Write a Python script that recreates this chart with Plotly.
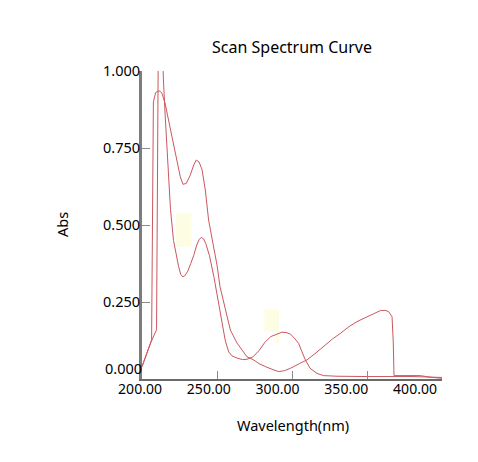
import plotly.graph_objects as go

# ---- data ----
wl_a = [200, 203, 206.4, 207.6, 208.4, 209.1, 211.3, 213.1, 215.3, 218.6, 221.0, 223.5, 225.5,
        227.3, 229.5, 232.0, 234.5, 236.2, 238.0, 240.0, 242.2, 244.4, 247.0, 250.0, 252.0,
        254.4, 256.5, 258.9, 263.3, 267.7, 270.0, 274.4, 278.0, 283.3, 288.9, 291.0, 295.0,
        299.0, 305.0, 310.0, 316.0, 322.0, 327.0, 332.2, 338.0, 344.0, 350.0, 355.0, 358.9,
        362.0, 364.4, 366.7, 367.5, 368.0, 375.0, 385.5, 392.0, 400.0]
abs_a = [0.04, 0.08, 0.127, 0.90, 0.918, 0.93, 0.936, 0.93, 0.897, 0.821, 0.754, 0.70, 0.657,
         0.632, 0.635, 0.66, 0.695, 0.711, 0.705, 0.68, 0.614, 0.516, 0.45, 0.37, 0.30,
         0.25, 0.20, 0.159, 0.117, 0.089, 0.072, 0.062, 0.05, 0.038, 0.027, 0.024, 0.027,
         0.035, 0.05, 0.062, 0.085, 0.11, 0.13, 0.148, 0.17, 0.188, 0.202, 0.214, 0.222,
         0.223, 0.219, 0.202, 0.12, 0.011, 0.011, 0.011, 0.006, 0.002]

wl_b = [200, 203, 206, 209.7, 210.3, 211.0, 212.2, 213.4, 214.2, 215.5, 217.7, 219.0, 221.0,
        222.9, 224.4, 225.8, 227.1, 228.5, 230.5, 232.5, 234.4, 236.5, 238.0, 239.5, 241.0,
        242.5, 245.0, 248.0, 251.0, 253.5, 255.5, 257.8, 260.0, 263.3, 267.0, 270.0, 274.0,
        278.0, 282.2, 286.0, 290.0, 293.3, 296.0, 298.9, 301.5, 304.4, 306.5, 308.9, 312.0,
        316.7, 321.0, 330.0, 350.0, 380.0, 400.0]
abs_b = [0.04, 0.08, 0.12, 0.16, 0.6, 1.2, 1.5, 1.2, 0.98, 0.85, 0.635, 0.55, 0.45,
         0.40, 0.365, 0.34, 0.332, 0.335, 0.35, 0.375, 0.40, 0.435, 0.452, 0.46, 0.455,
         0.44, 0.40, 0.33, 0.25, 0.18, 0.125, 0.088, 0.075, 0.068, 0.063, 0.064, 0.072,
         0.092, 0.121, 0.138, 0.147, 0.152, 0.151, 0.146, 0.133, 0.116, 0.09, 0.062, 0.035,
         0.018, 0.011, 0.009, 0.008, 0.008, 0.005]

x_ticks = [200, 250, 300, 350, 400]
y_ticks = [0.25, 0.5, 0.75, 1.0]
y_zero_label = "0.000"

# faint highlight boxes (x0, x1, y0, y1) in data units
highlights = [(222.7, 233.1, 0.4295, 0.538), (281.6, 291.3, 0.154, 0.226), (289.1, 291.3, 0.117, 0.154)]

title = "Scan Spectrum Curve"
x_title = "Wavelength(nm)"
y_title = "Abs"

# ---- figure ----
W, H = 478, 462
L, R, T, B = 140, 36, 71, 83
pw = W - L - R
ph = H - T - B
font = "Noto Sans"
line_col = "rgb(202,88,94)"
txt_col = "#000000"

fig = go.Figure()
fig.add_trace(go.Scatter(x=wl_a, y=abs_a, mode="lines", line=dict(color=line_col, width=1),
                         hoverinfo="skip", showlegend=False))
fig.add_trace(go.Scatter(x=wl_b, y=abs_b, mode="lines", line=dict(color=line_col, width=1),
                         hoverinfo="skip", showlegend=False))
# carrier trace for the label axis
fig.add_trace(go.Scatter(x=[x_ticks[0], x_ticks[-1]], y=[-5, -5], xaxis="x2", mode="markers",
                         marker=dict(opacity=0), hoverinfo="skip", showlegend=False))

for x0, x1, y0, y1 in highlights:
    fig.add_shape(type="rect", xref="x", yref="y", x0=x0, x1=x1, y0=y0, y1=y1,
                  fillcolor="#fdfde4", line=dict(width=0), layer="below")

x_start = 2 / pw
fig.update_layout(
    width=W, height=H, margin=dict(l=L, r=R, t=T, b=B),
    paper_bgcolor="white", plot_bgcolor="rgba(0,0,0,0)",
    font=dict(family=font, color=txt_col),
    xaxis=dict(domain=[x_start, 1], range=[200, 400], autorange=False,
               tickvals=x_ticks[1:], showticklabels=False, ticks="inside", ticklen=8,
               tickcolor="#8a8a8a", tickwidth=1, showline=True, linecolor="#6a6a6a",
               linewidth=2, showgrid=False, zeroline=False),
    xaxis2=dict(domain=[0, 275 / pw], range=[200, 400], autorange=False,
                anchor="y", side="bottom", tickvals=x_ticks,
                ticktext=[f"{v:.2f}" for v in x_ticks], ticks="", showline=False,
                showgrid=False, zeroline=False, tickfont=dict(size=14, color=txt_col)),
    yaxis=dict(range=[0, 1], autorange=False, tickvals=y_ticks,
               ticktext=[f"{v:.3f}" for v in y_ticks], ticks="inside", ticklen=8,
               tickcolor="#8a8a8a", tickwidth=1, showline=True, linecolor="#7d7d7d",
               linewidth=3, showgrid=False, zeroline=False, ticklabelstandoff=-4,
               tickfont=dict(size=14.5, color=txt_col)),
    title=dict(text=title, x=(292 - L) / pw, xref="paper", xanchor="center",
               y=1 - 47 / H, yref="container", yanchor="middle",
               font=dict(size=16, family=font, color=txt_col)),
)

fig.add_annotation(text=y_zero_label, xref="paper", yref="y", x=x_start, y=0,
                   xanchor="right", yanchor="middle", xshift=2, yshift=11, showarrow=False,
                   font=dict(size=14.5, family=font, color=txt_col))
fig.add_annotation(text=x_title, xref="paper", yref="paper", x=(293 - L) / pw,
                   y=(ph - (425 - T)) / ph, xanchor="center", yanchor="middle",
                   showarrow=False, font=dict(size=14.5, family=font, color=txt_col))
fig.add_annotation(text=y_title, xref="paper", yref="paper", x=(62 - L) / pw, y=0.5,
                   xanchor="center", yanchor="middle", textangle=-90, showarrow=False,
                   font=dict(size=14.5, family=font, color=txt_col))

fig.write_html("out.html")
